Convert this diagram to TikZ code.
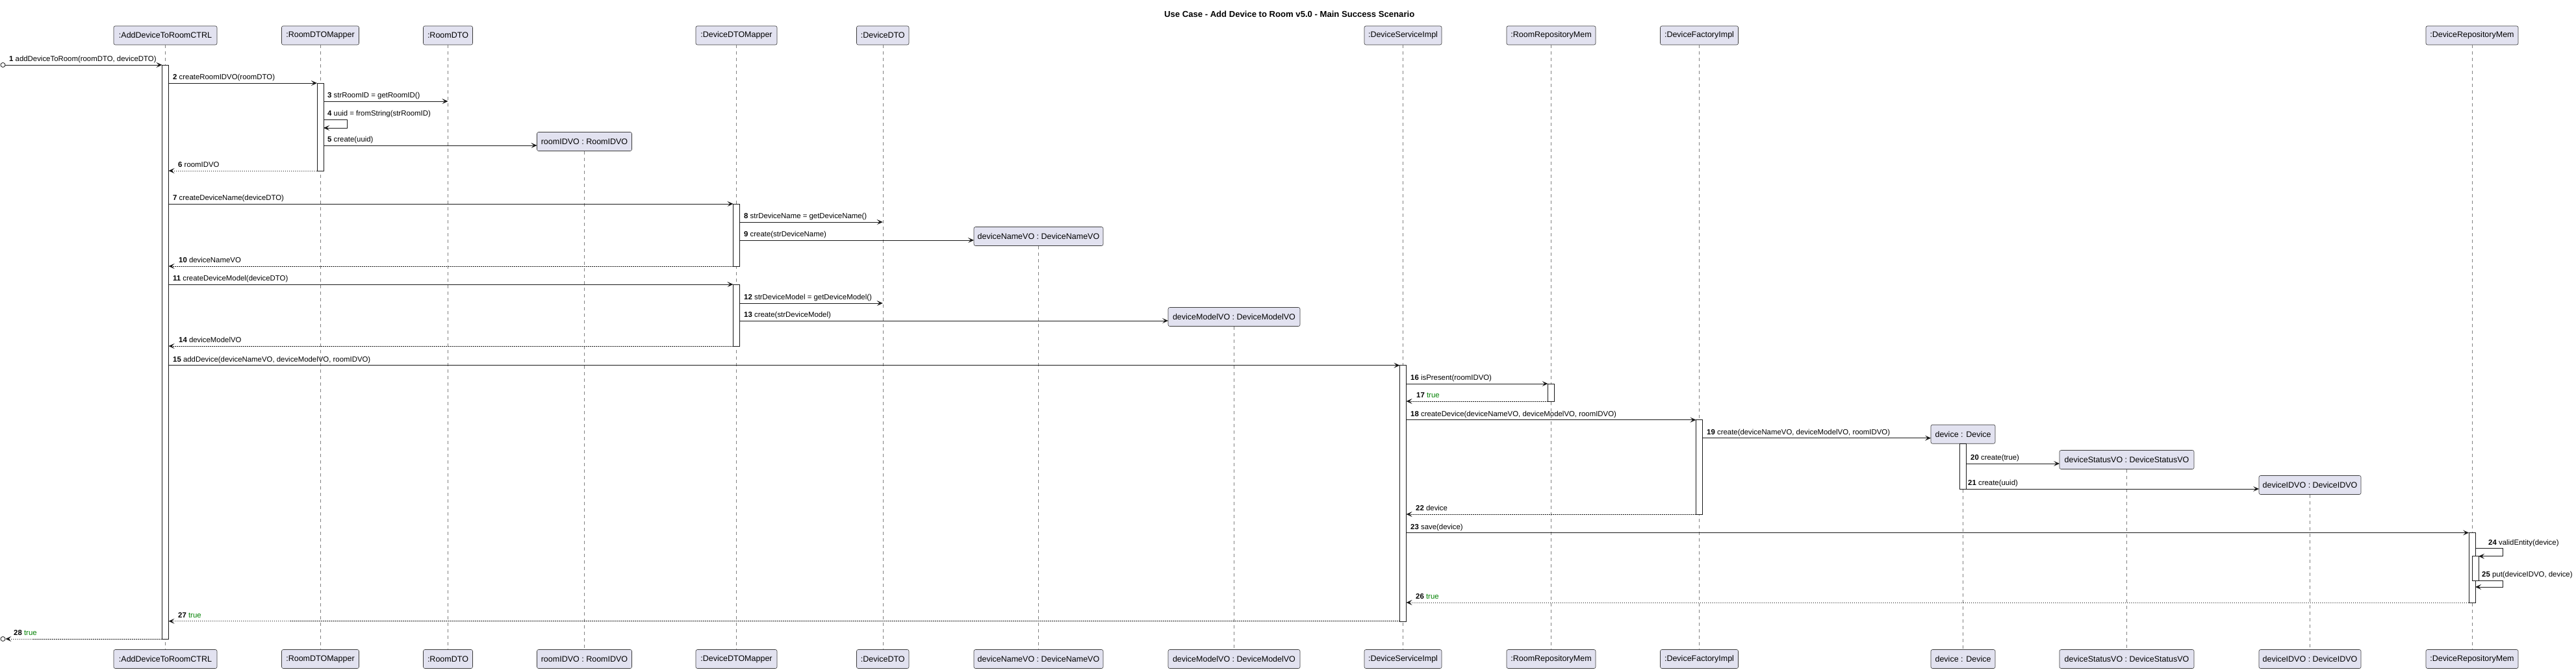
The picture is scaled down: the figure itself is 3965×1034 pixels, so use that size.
\documentclass[tikz,border=0pt]{standalone}
\usepackage{fontspec}
\setmainfont{Liberation Sans}
\usetikzlibrary{arrows.meta}
\definecolor{pfill}{HTML}{E2E2F0}
\definecolor{pline}{HTML}{181818}
\definecolor{okgreen}{HTML}{008000}
\newcommand\seqcall[6]{%
  \coordinate (#1a) at (#3,#2);
  \coordinate (#1b) at (#4,#2);
  \draw[msg] (#1a) -- (#1b);
  \node[lbl] (#1t) at (#5,#2-5.5) {#6};}
\newcommand\seqret[6]{%
  \coordinate (#1a) at (#3,#2);
  \coordinate (#1b) at (#4,#2);
  \draw[ret] (#1a) -- (#1b);
  \node[lbl] (#1t) at (#5,#2-5.5) {#6};}
\newcommand\seqself[8]{% id, y1, y2, xstart, xloop, xend, labelx, text
  \coordinate (#1a) at (#4,#2);
  \coordinate (#1b) at (#6,#3);
  \draw[msg] (#1a) -- (#5,#2) -- (#5,#3) -- (#1b);
  \node[lbl] (#1t) at (#7,#2-5.5) {#8};}
\begin{document}
\begin{tikzpicture}[x=1pt,y=-1pt,
  part/.style={draw=pline!85, fill=pfill, line width=0.6pt, rounded corners=2.5pt,
    minimum height=29pt, inner sep=0pt, font=\fontsize{12.5}{14}\selectfont},
  lifeline/.style={draw=pline!55, line width=0.5pt, dash pattern=on 5pt off 5pt},
  act/.style={draw=pline, fill=white, line width=0.8pt},
  msg/.style={draw=pline, line width=0.8pt, -{Stealth[length=9pt,width=8pt,inset=4pt]}},
  ret/.style={msg, dash pattern=on 1.5pt off 1.5pt},
  lbl/.style={anchor=base west, inner sep=0pt, font=\fontsize{11.4}{13}\selectfont},
  endpt/.style={draw=pline, fill=white, line width=0.8pt, circle, inner sep=0pt, minimum size=7pt},
]
\useasboundingbox (0,0) rectangle (3965,1034);

% title
\node[anchor=base, inner sep=0pt, font=\bfseries\fontsize{13.1}{15}\selectfont] (title) at (1984.7,26)
  {Use Case - Add Device to Room v5.0 - Main Success Scenario};

% participants (top)
\node[part, minimum width=159pt] (ctrlT) at (254.5,54.5) {:AddDeviceToRoomCTRL};
\node[part, minimum width=119pt] (rmapT) at (493,54.5) {:RoomDTOMapper};
\node[part, minimum width=76pt] (rdtoT) at (689.5,54.5) {:RoomDTO};
\node[part, minimum width=146pt] (ridT) at (899.5,218) {roomIDVO : RoomIDVO};
\node[part, minimum width=125pt] (dmapT) at (1133.5,54.5) {:DeviceDTOMapper};
\node[part, minimum width=80.5pt] (ddtoT) at (1358.75,54.5) {:DeviceDTO};
\node[part, minimum width=199pt] (dnT) at (1598.5,364) {deviceNameVO : DeviceNameVO};
\node[part, minimum width=203pt] (dmT) at (1899.5,488) {deviceModelVO : DeviceModelVO};
\node[part, minimum width=119pt] (dsvT) at (2159.5,54.5) {:DeviceServiceImpl};
\node[part, minimum width=137pt] (rrepT) at (2387.5,54.5) {:RoomRepositoryMem};
\node[part, minimum width=120pt] (dfacT) at (2615.5,54.5) {:DeviceFactoryImpl};
\node[part, minimum width=99pt] (devT) at (3021.5,668.7) {device : Device};
\node[part, minimum width=207pt] (dstT) at (3273.5,708) {deviceStatusVO : DeviceStatusVO};
\node[part, minimum width=157pt] (didT) at (3555.5,747) {deviceIDVO : DeviceIDVO};
\node[part, minimum width=142pt] (drepT) at (3805,54.5) {:DeviceRepositoryMem};

% participants (bottom)
\node[part, minimum width=159pt] (ctrlB) at (254.5,1015) {:AddDeviceToRoomCTRL};
\node[part, minimum width=119pt] (rmapB) at (493,1015) {:RoomDTOMapper};
\node[part, minimum width=76pt] (rdtoB) at (689.5,1015) {:RoomDTO};
\node[part, minimum width=146pt] (ridB) at (899.5,1015) {roomIDVO : RoomIDVO};
\node[part, minimum width=125pt] (dmapB) at (1133.5,1015) {:DeviceDTOMapper};
\node[part, minimum width=80.5pt] (ddtoB) at (1358.75,1015) {:DeviceDTO};
\node[part, minimum width=199pt] (dnB) at (1598.5,1015) {deviceNameVO : DeviceNameVO};
\node[part, minimum width=203pt] (dmB) at (1899.5,1015) {deviceModelVO : DeviceModelVO};
\node[part, minimum width=119pt] (dsvB) at (2159.5,1015) {:DeviceServiceImpl};
\node[part, minimum width=137pt] (rrepB) at (2387.5,1015) {:RoomRepositoryMem};
\node[part, minimum width=120pt] (dfacB) at (2615.5,1015) {:DeviceFactoryImpl};
\node[part, minimum width=99pt] (devB) at (3021.5,1015) {device : Device};
\node[part, minimum width=207pt] (dstB) at (3273.5,1015) {deviceStatusVO : DeviceStatusVO};
\node[part, minimum width=157pt] (didB) at (3555.5,1015) {deviceIDVO : DeviceIDVO};
\node[part, minimum width=142pt] (drepB) at (3805,1015) {:DeviceRepositoryMem};

% lifelines
\foreach \p in {ctrl,rmap,rdto,rid,dmap,ddto,dn,dm,dsv,rrep,dfac,dev,dst,did,drep}{
  \draw[lifeline] (\p T.south) -- (\p B.north);
}

% activations
\draw[act] (249.5,100) rectangle (259.5,984);
\draw[act] (488,128) rectangle (498,263);
\draw[act] (1128.5,314) rectangle (1138.5,410);
\draw[act] (1128.5,438) rectangle (1138.5,533);
\draw[act] (2154.5,562.7) rectangle (2164.5,957);
\draw[act] (2382.5,591) rectangle (2392.5,618);
\draw[act] (2610.5,646.7) rectangle (2620.5,792);
\draw[act] (3016.5,683.2) rectangle (3026.5,753);
\draw[act] (3800,820.3) rectangle (3810,928);
\draw[act] (3805,856.7) rectangle (3815,894);

% messages
\node[endpt] (startpt) at (4.5,100) {};
\coordinate (m1b) at (249.5,100);
\draw[msg] (startpt.east) -- (m1b);
\node[lbl] (m1t) at (14,94.5) {\textbf{1} addDeviceToRoom(roomDTO, deviceDTO)};

\seqcall{m2}{128}{259.5}{488}{266}{\textbf{2} createRoomIDVO(roomDTO)}
\seqcall{m3}{156}{498}{689.5}{504}{\textbf{3} strRoomID = getRoomID()}
\seqself{m4}{184}{197}{498}{534.5}{498}{504}{\textbf{4} uuid = fromString(strRoomID)}
\seqcall{m5}{224}{498}{826.5}{504}{\textbf{5} create(uuid)}
\seqret{m6}{263}{488}{259.5}{274}{\textbf{6} roomIDVO}
\seqcall{m7}{314}{259.5}{1128.5}{266}{\textbf{7} createDeviceName(deviceDTO)}
\seqcall{m8}{342}{1138.5}{1358.75}{1145}{\textbf{8} strDeviceName = getDeviceName()}
\seqcall{m9}{370}{1138.5}{1499}{1145}{\textbf{9} create(strDeviceName)}
\seqret{m10}{410}{1128.5}{259.5}{275}{\textbf{10} deviceNameVO}
\seqcall{m11}{438}{259.5}{1128.5}{266}{\textbf{11} createDeviceModel(deviceDTO)}
\seqcall{m12}{467}{1138.5}{1358.75}{1145}{\textbf{12} strDeviceModel = getDeviceModel()}
\seqcall{m13}{494}{1138.5}{1798}{1145}{\textbf{13} create(strDeviceModel)}
\seqret{m14}{533}{1128.5}{259.5}{275}{\textbf{14} deviceModelVO}
\seqcall{m15}{562.7}{259.5}{2154.5}{266}{\textbf{15} addDevice(deviceNameVO, deviceModelVO, roomIDVO)}
\seqcall{m16}{591}{2164.5}{2382.5}{2171}{\textbf{16} isPresent(roomIDVO)}
\seqret{m17}{618}{2382.5}{2164.5}{2180}{\textbf{17} \textcolor{okgreen}{true}}
\seqcall{m18}{646.7}{2164.5}{2610.5}{2171}{\textbf{18} createDevice(deviceNameVO, deviceModelVO, roomIDVO)}
\seqcall{m19}{674.7}{2620.5}{2972}{2627}{\textbf{19} create(deviceNameVO, deviceModelVO, roomIDVO)}
\seqcall{m20}{714}{3026.5}{3170}{3033}{\textbf{20} create(true)}
\seqcall{m21}{753}{3026.5}{3477}{3029}{\textbf{21} create(uuid)}
\seqret{m22}{792}{2610.5}{2164.5}{2179}{\textbf{22} device}
\seqcall{m23}{820.5}{2164.5}{3800}{2171}{\textbf{23} save(device)}
\seqself{m24}{844.7}{856.7}{3810}{3852.7}{3815}{3830}{\textbf{24} validEntity(device)}
\seqself{m25}{894}{904}{3815}{3852.7}{3810}{3820}{\textbf{25} put(deviceIDVO, device)}
\seqret{m26}{928}{3800}{2164.5}{2179}{\textbf{26} \textcolor{okgreen}{true}}
\seqret{m27}{956.7}{2154.5}{259.5}{274}{\textbf{27} \textcolor{okgreen}{true}}
\node[endpt] (endpt) at (4.5,984) {};
\coordinate (m28a) at (249.5,984);
\draw[ret] (m28a) -- (endpt.east);
\node[lbl] (m28t) at (21,978.5) {\textbf{28} \textcolor{okgreen}{true}};
\end{tikzpicture}
\end{document}
